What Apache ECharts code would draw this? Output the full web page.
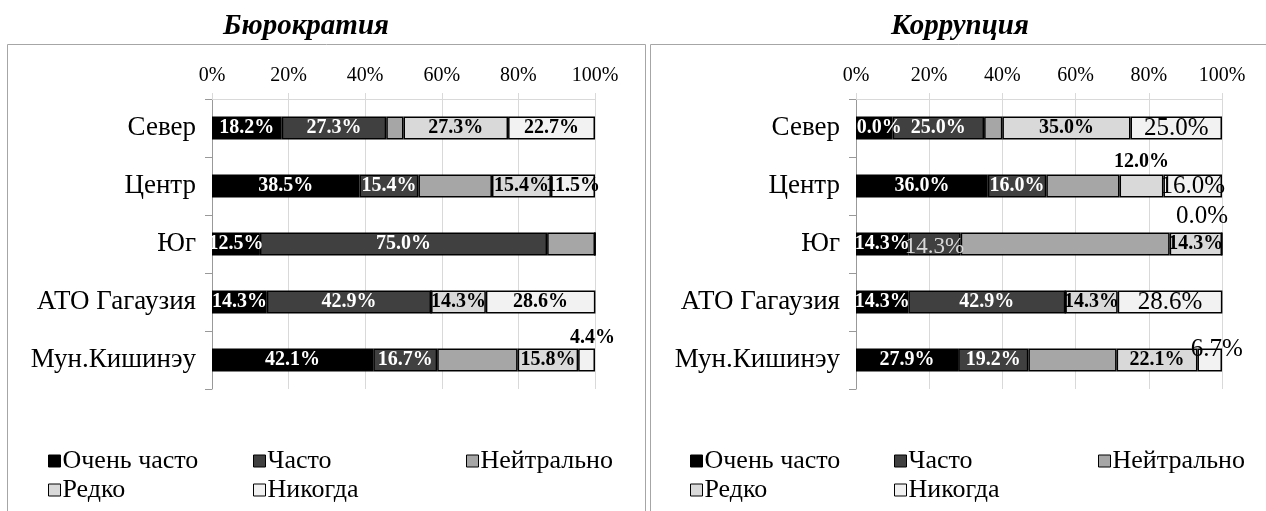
<!DOCTYPE html>
<html>
<head>
<meta charset="utf-8">
<script src="https://cdn.jsdelivr.net/npm/echarts@6/dist/echarts.min.js"></script>
<style>
  html, body { margin: 0; padding: 0; background: #fff; }
  #chart { width: 1266px; height: 511px; }
</style>
</head>
<body>
<div id="chart"></div>
<script>
const categories = ['Север', 'Центр', 'Юг', 'АТО Гагаузия', 'Мун.Кишинэу']
const seriesNames = ['Очень часто', 'Часто', 'Нейтрально', 'Редко', 'Никогда']
const xTicks = [0, 20, 40, 60, 80, 100]

// Бюрократия
const veryOftenB = [18.2, 38.5, 12.5, 14.3, 42.1]
const oftenB = [27.3, 15.4, 75.0, 42.9, 16.7]
const neutralB = [4.5, 19.2, 12.5, 0, 21.0]
const rarelyB = [27.3, 15.4, 0, 14.3, 15.8]
const neverB = [22.7, 11.5, 0, 28.6, 4.4]

// Коррупция
const veryOftenC = [10.0, 36.0, 14.3, 14.3, 27.9]
const oftenC = [25.0, 16.0, 14.3, 42.9, 19.2]
const neutralC = [5.0, 20.0, 57.1, 0, 24.1]
const rarelyC = [35.0, 12.0, 14.3, 14.3, 22.1]
const neverC = [25.0, 16.0, 0.0, 28.6, 6.7]

const COLORS = ['#000000', '#404040', '#a6a6a6', '#d9d9d9', '#f2f2f2']
const FONT = '"Liberation Serif", "Times New Roman", serif'

// per-label tweaks (Excel had some labels moved by hand)
const labelTweaksB = [
  {}, {}, {},
  { 2: { show: false } },
  { 2: { show: false }, 4: { position: 'top', distance: 1, offset: [6, 0] } },
]
const labelTweaksC = [
  {},
  { 2: { color: '#d9d9d9', fontWeight: 'normal', fontSize: 23, offset: [0, 3] } },
  {},
  { 1: { position: 'top', distance: 3 } },
  { 2: { show: true, position: 'top', distance: 3, offset: [-20, 0] },
    4: { position: 'top', offset: [7, 18] } },
]

function buildSeries(sets, gridIdx, tweaks) {
  return sets.map((vals, s) => {
    const isNeverC = gridIdx === 1 && s === 4
    return {
      name: seriesNames[s],
      type: 'bar',
      stack: 'g' + gridIdx,
      xAxisIndex: gridIdx,
      yAxisIndex: gridIdx,
      barWidth: 23,
      animation: false,
      itemStyle: { color: COLORS[s], borderColor: '#000', borderWidth: 1.5 },
      label: {
        show: s !== 2,
        position: 'inside',
        color: s < 2 ? '#fff' : '#000',
        fontFamily: FONT,
        fontWeight: isNeverC ? 'normal' : 'bold',
        fontSize: isNeverC ? 25 : 20,
        formatter: p => p.value.toFixed(1) + '%',
      },
      data: vals.map((v, i) => tweaks[s][i] ? { value: v, label: tweaks[s][i] } : v),
    }
  })
}

function makeGrid(left, width) {
  return { left: left, top: 99, width: width, height: 290, containLabel: false }
}

function makeXAxis(gridIdx) {
  return {
    type: 'value',
    gridIndex: gridIdx,
    position: 'top',
    min: xTicks[0],
    max: xTicks[xTicks.length - 1],
    interval: 20,
    axisLine: { show: true, lineStyle: { color: '#d9d9d9', width: 1 } },
    axisTick: { show: true, length: 6, lineStyle: { color: '#d9d9d9' } },
    splitLine: { show: true, lineStyle: { color: '#d9d9d9', width: 1 } },
    axisLabel: { formatter: '{value}%', fontFamily: FONT, fontSize: 20, color: '#000', margin: 13 },
  }
}

function makeYAxis(gridIdx) {
  return {
    type: 'category',
    gridIndex: gridIdx,
    data: categories,
    inverse: true,
    axisLine: { show: true, lineStyle: { color: '#999', width: 1 } },
    axisTick: { show: true, length: 7, lineStyle: { color: '#999' } },
    splitLine: { show: false },
    axisLabel: { fontFamily: FONT, fontSize: 27, color: '#000', margin: 16 },
  }
}

// legend columns / rows positions per panel
const legendCols = [[48, 253, 466], [690, 894, 1098]]
const legendRows = [448, 477]

function makeLegends(panel) {
  return seriesNames.map((name, s) => ({
    data: [name],
    left: legendCols[panel][s % 3],
    top: legendRows[Math.floor(s / 3)],
    padding: 0,
    itemWidth: 12,
    itemHeight: 12,
    icon: 'rect',
    selectedMode: false,
    itemStyle: { borderColor: '#000', borderWidth: 1 },
    textStyle: { fontFamily: FONT, fontSize: 26, color: '#000', padding: [0, 0, 0, -3] },
  }))
}

const chart = echarts.init(document.getElementById('chart'), null, { renderer: 'canvas' })

const option = {
  backgroundColor: '#fff',
  animation: false,
  graphic: [
    { type: 'rect', silent: true, z: -10, shape: { x: 7.5, y: 44.5, width: 638, height: 480 },
      style: { fill: 'none', stroke: '#a6a6a6', lineWidth: 1 } },
    { type: 'rect', silent: true, z: -10, shape: { x: 650.5, y: 44.5, width: 620, height: 480 },
      style: { fill: 'none', stroke: '#a6a6a6', lineWidth: 1 } },
    { type: 'text', x: 306, y: 27, silent: true,
      style: { text: 'Бюрократия', align: 'center', verticalAlign: 'middle',
        font: 'italic bold 29px "Liberation Serif"', fill: '#000' } },
    { type: 'text', x: 960, y: 27, silent: true,
      style: { text: 'Коррупция', align: 'center', verticalAlign: 'middle',
        font: 'italic bold 29px "Liberation Serif"', fill: '#000' } },
  ],
  grid: [makeGrid(212, 383), makeGrid(856, 366)],
  xAxis: [makeXAxis(0), makeXAxis(1)],
  yAxis: [makeYAxis(0), makeYAxis(1)],
  legend: [...makeLegends(0), ...makeLegends(1)],
  series: [
    ...buildSeries([veryOftenB, oftenB, neutralB, rarelyB, neverB], 0, labelTweaksB),
    ...buildSeries([veryOftenC, oftenC, neutralC, rarelyC, neverC], 1, labelTweaksC),
  ],
}

chart.setOption(option)
</script>
</body>
</html>
